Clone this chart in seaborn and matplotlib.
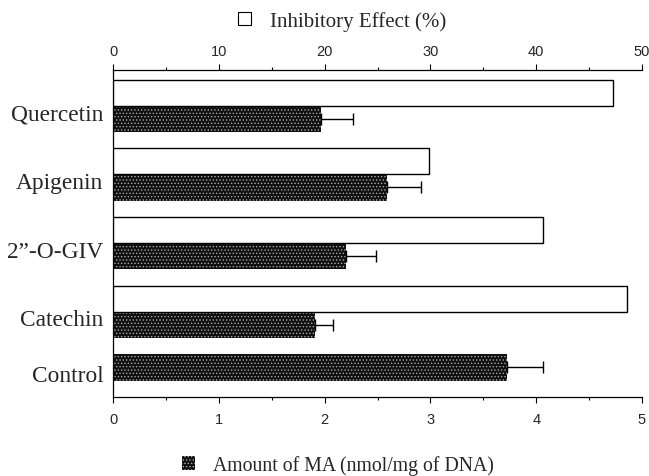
import numpy as np
import pandas as pd
import matplotlib
matplotlib.use('Agg')
import matplotlib.pyplot as plt
import seaborn as sns
from matplotlib.patches import Patch
from matplotlib.ticker import MultipleLocator

# Data
compounds = ['Quercetin', 'Apigenin', '2\u201d-O-GIV', 'Catechin', 'Control']
inhibition = [47.3, 29.9, 40.6, 48.6]          # %, no value for Control
ma_amount = [1.97, 2.59, 2.20, 1.91, 3.72]      # nmol/mg of DNA
ma_err = [0.30, 0.32, 0.29, 0.17, 0.34]

DARK = '#101010'
DOTS = '#a8a8a8'
SERIF = 'Liberation Serif'

eff_df = pd.DataFrame({'compound': compounds[:4], 'value': inhibition, 'slot': 'upper'})
ma_df = pd.DataFrame({'compound': compounds, 'value': ma_amount,
                      'slot': ['lower'] * 4 + ['upper']})

sns.set_style('ticks')
plt.rcParams['font.family'] = ['Liberation Sans', 'DejaVu Sans']
plt.rcParams['hatch.linewidth'] = 0.6

fig = plt.figure(figsize=(6.49, 4.77), dpi=100)
ax = fig.add_axes([113 / 649, 1 - 398 / 477, (642 - 113) / 649, (398 - 71) / 477])
ax_top = ax.twiny()

# dark bars: amount of MA (bottom axis)
sns.barplot(data=ma_df, x='value', y='compound', hue='slot', order=compounds,
            hue_order=['upper', 'lower'], palette={'upper': DARK, 'lower': DARK},
            width=0.76, dodge=True, orient='h', errorbar=None, legend=False,
            linewidth=0, ax=ax)

# white bars: inhibitory effect (top axis)
sns.barplot(data=eff_df, x='value', y='compound', hue='slot', order=compounds,
            hue_order=['upper', 'lower'], palette={'upper': 'white', 'lower': 'white'},
            width=0.76, dodge=True, orient='h', errorbar=None, legend=False,
            edgecolor='black', linewidth=1.0, ax=ax_top)

for p in ax.patches:
    p.set_hatch('.....')
    p.set_edgecolor(DOTS)
    p.set_linewidth(0)

# one-sided error bars on the dark bars
for p in ax.patches:
    w = p.get_width()
    i = int(np.argmin(np.abs(np.array(ma_amount) - w)))
    yc = p.get_y() + p.get_height() / 2
    ax.errorbar(w, yc, xerr=[[0], [ma_err[i]]], fmt='none', ecolor='black',
                elinewidth=1, capsize=4.5, capthick=1, zorder=5)

# category label positions taken from the drawn bars
centers = {}
for a in (ax, ax_top):
    for p in a.patches:
        k = int(round(p.get_y() + p.get_height() / 2))
        centers.setdefault(k, []).append(p.get_y() + p.get_height() / 2)
ypos = [np.mean(centers[k]) + 0.08 for k in sorted(centers)]

ax.set_xlim(0, 5)
ax_top.set_xlim(0, 50)
ax.set_ylim(4.24, -0.52)
ax.set_yticks(ypos)
ax.set_yticklabels(compounds, fontfamily=SERIF, fontsize=16.8)
ax.set_xlabel('')
ax.set_ylabel('')
ax_top.set_xlabel('')
ax_top.set_ylabel('')

ax.xaxis.set_major_locator(MultipleLocator(1))
ax.xaxis.set_minor_locator(MultipleLocator(0.5))
ax_top.xaxis.set_major_locator(MultipleLocator(10))
ax_top.xaxis.set_minor_locator(MultipleLocator(5))

ax.tick_params(axis='x', which='major', length=4, width=0.8, labelsize=10.5, pad=7, color='black')
ax.tick_params(axis='x', which='minor', length=2, width=0.8, color='black')
ax_top.tick_params(axis='x', which='major', length=4, width=0.8, labelsize=10.5, pad=5, color='black')
ax_top.tick_params(axis='x', which='minor', length=2, width=0.8, color='black')
ax.tick_params(axis='y', length=0, pad=7)
ax_top.tick_params(axis='y', length=0)

for s in ['top', 'right']:
    ax.spines[s].set_visible(False)
for s in ['bottom', 'right', 'left']:
    ax_top.spines[s].set_visible(False)
for s in ['left', 'bottom']:
    ax.spines[s].set_linewidth(0.9)
    ax.spines[s].set_color('black')
ax_top.spines['top'].set_linewidth(0.9)
ax_top.spines['top'].set_color('black')

fig.legend(handles=[Patch(facecolor='white', edgecolor='black', linewidth=0.8)],
           labels=['Inhibitory Effect (%)'], loc='center',
           bbox_to_anchor=(342 / 649, 1 - 22 / 477), frameon=False,
           prop={'family': SERIF, 'size': 15},
           handlelength=0.62, handleheight=0.62, handletextpad=0.9)
fig.legend(handles=[Patch(facecolor=DARK, edgecolor=DOTS, hatch='.....', linewidth=0)],
           labels=['Amount of MA (nmol/mg of DNA)'], loc='center',
           bbox_to_anchor=(338 / 649, 1 - 466 / 477), frameon=False,
           prop={'family': SERIF, 'size': 14.2},
           handlelength=0.66, handleheight=0.66, handletextpad=0.9)

fig.savefig('out.png', dpi=100)
